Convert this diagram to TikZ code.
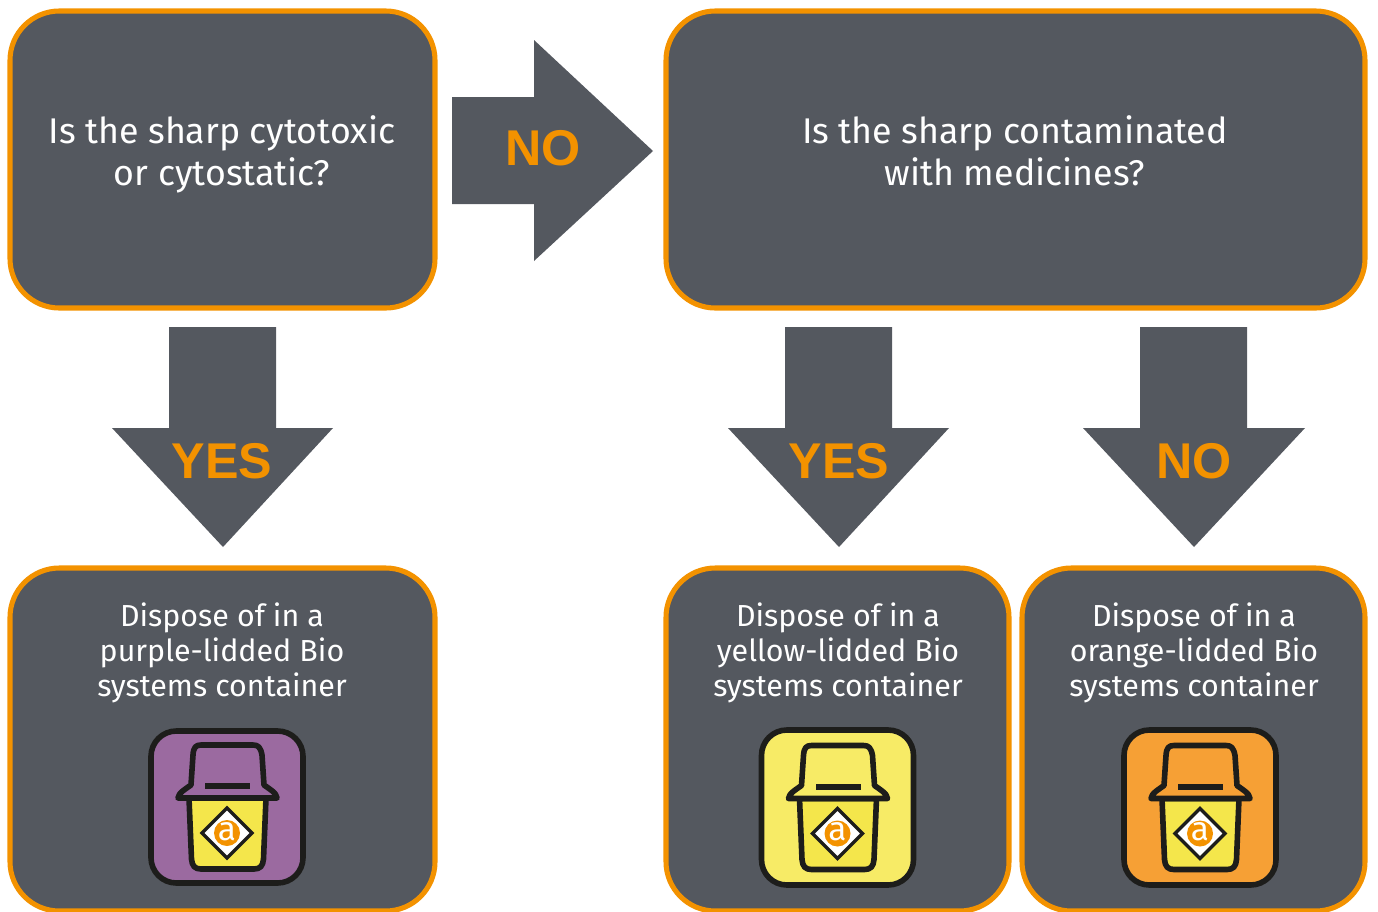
\documentclass[tikz,border=0pt]{standalone}
\usepackage{fontspec}
\setmainfont{Fira Sans}
\newfontfamily\verdictfont{Liberation Sans}
\newcommand{\lh}{\vphantom{Ig}}
\definecolor{slate}{HTML}{54585F}
\definecolor{amber}{HTML}{F39200}
\definecolor{ink}{HTML}{1D1D1B}
\definecolor{binyellow}{HTML}{F4E64B}
\definecolor{lidpurple}{HTML}{9B6AA0}
\definecolor{lidyellow}{HTML}{F7EB66}
\definecolor{lidorange}{HTML}{F6A035}
\tikzset{
  x=0.75pt,y=-0.75pt,
  panel/.style={fill=slate,draw=amber,line width=3.8pt,rounded corners=37pt},
  arrowshape/.style={fill=slate,draw=none},
  question/.style={text=white,align=center,font=\fontsize{26.8pt}{31.5pt}\selectfont},
  answer/.style={text=white,align=center,font=\fontsize{22.8pt}{26.2pt}\selectfont},
  verdict/.style={text=amber,font=\fontsize{37.7pt}{37.7pt}\verdictfont\bfseries},
  binline/.style={draw=ink,line width=4.2pt,line join=round},
  pics/sharpsbin/.style n args={2}{code={
    \draw[binline,fill=#1,rounded corners=19pt] (-76,-#2) rectangle (76,#2);
    \draw[binline,fill=binyellow] (-38,-9) -- (-35.5,52) .. controls (-35,59) and (-32,62) .. (-26,62)
      -- (27,62) .. controls (33,62) and (36,59) .. (36.5,52) -- (39,-9) -- cycle;
    \draw[binline,fill=#1] (-49,-9) .. controls (-49,-14) and (-40,-19) .. (-36,-22)
      -- (-34,-52) .. controls (-33.5,-60) and (-31,-62) .. (-26,-62)
      -- (26,-62) .. controls (31,-62) and (33.5,-60) .. (35,-52)
      -- (37,-22) .. controls (41,-19) and (50,-14) .. (50,-9) -- cycle;
    \fill[ink] (-22,-24) rectangle (23,-18);
    \draw[draw=ink,line width=2.6pt,fill=white] (-25,26) -- (0,1) -- (25,26) -- (0,51) -- cycle;
    \fill[amber] (0,26) circle (13);
    \node[text=white,inner sep=0pt,font=\fontsize{25pt}{25pt}\selectfont] at (0,24.5) {a};
  }}
}
\begin{document}
\begin{tikzpicture}
\useasboundingbox (0,0) rectangle (1378,911);
% panels
\begin{scope}
\clip (0,0) rectangle (1378,911);
\draw[panel] (10,11) rectangle (435,308);
\draw[panel] (666,11) rectangle (1365,308);
\draw[panel] (10,568) rectangle (435,911);
\draw[panel] (666,568) rectangle (1009,911);
\draw[panel] (1022,568) rectangle (1365,911);
\end{scope}
% arrows
\fill[arrowshape] (452,97) -- (534,97) -- (534,40) -- (653,151) -- (534,261) -- (534,204) -- (452,204) -- cycle;
\fill[arrowshape] (169,327) -- (276,327) -- (276,428) -- (333,428) -- (223,547) -- (112,428) -- (169,428) -- cycle;
\fill[arrowshape] (785,327) -- (892,327) -- (892,428) -- (949,428) -- (839,547) -- (728,428) -- (785,428) -- cycle;
\fill[arrowshape] (1140,327) -- (1247,327) -- (1247,428) -- (1305,428) -- (1194,547) -- (1083,428) -- (1140,428) -- cycle;
% text
\node[question] (q1) at (222,154.5) {\lh Is the sharp cytotoxic\\or cytostatic?\lh};
\node[question] (q2) at (1015,154.5) {\lh Is the sharp contaminated\\with medicines?\lh};
\node[verdict] (no1) at (543,148) {NO};
\node[verdict] (yes1) at (222,461) {YES};
\node[verdict] (yes2) at (839,461) {YES};
\node[verdict] (no2) at (1194,461) {NO};
\node[answer] (a1) at (222,652.5) {\lh Dispose of in a\\purple-lidded Bio\\systems container\lh};
\node[answer] (a2) at (838,652.5) {\lh Dispose of in a\\yellow-lidded Bio\\systems container\lh};
\node[answer] (a3) at (1194,652.5) {\lh Dispose of in a\\orange-lidded Bio\\systems container\lh};
% containers
\pic at (227,807) {sharpsbin={lidpurple}{76}};
\pic at (837.5,807.5) {sharpsbin={lidyellow}{77.5}};
\pic at (1200,807.5) {sharpsbin={lidorange}{77.5}};
\end{tikzpicture}
\end{document}
